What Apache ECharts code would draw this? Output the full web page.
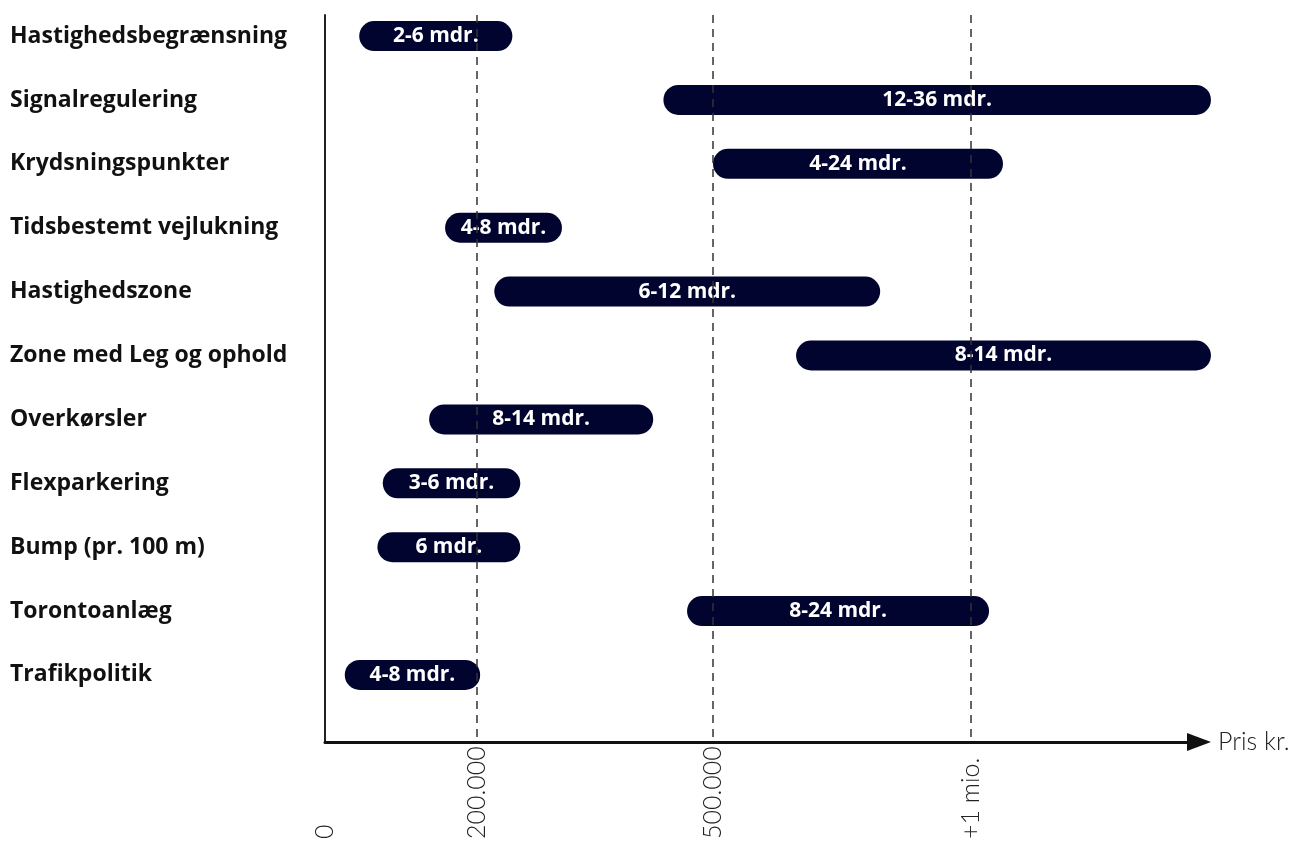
<!DOCTYPE html>
<html>
<head>
<meta charset="utf-8">
<script src="https://cdn.jsdelivr.net/npm/echarts@6/dist/echarts.min.js"></script>
<style>html,body{margin:0;padding:0;background:#fff}#c{width:1299px;height:843px}</style>
</head>
<body>
<div id="c"></div>
<script>
// ---- data ----
const categories = ['Hastighedsbegrænsning','Signalregulering','Krydsningspunkter','Tidsbestemt vejlukning','Hastighedszone','Zone med Leg og ophold','Overkørsler','Flexparkering','Bump (pr. 100 m)','Torontoanlæg','Trafikpolitik'];
const priceFrom = [45000, 437000, 500000, 158000, 222000, 661000, 137000, 76000, 69000, 467000, 26000];
const priceTo   = [245000, 1465000, 1062000, 308000, 824000, 1465000, 424000, 255000, 255000, 1035000, 204000];
const durations = ['2-6 mdr.','12-36 mdr.','4-24 mdr.','4-8 mdr.','6-12 mdr.','8-14 mdr.','8-14 mdr.','3-6 mdr.','6 mdr.','8-24 mdr.','4-8 mdr.'];
const tickValues = [0, 200000, 500000, 1000000];
const tickLabels = ['0','200.000','500.000','+1 mio.'];
const gridLineValues = [200000, 500000, 1000000];

// the price axis is drawn schematically: piecewise linear between the tick values
const scaleUnits = [0, 152, 388, 646];
function toAxis(kr){
  let i = 1;
  while (i < tickValues.length - 1 && kr > tickValues[i]) i++;
  const k0 = tickValues[i-1], k1 = tickValues[i], u0 = scaleUnits[i-1], u1 = scaleUnits[i];
  return u0 + (kr - k0) * (u1 - u0) / (k1 - k0);
}

const chart = echarts.init(document.getElementById('c'), null, {renderer:'canvas'});
const seriesData = categories.map((c, i) => [i, toAxis(priceFrom[i]), toAxis(priceTo[i])]);
const tickAxisVals = tickValues.map(toAxis);

chart.setOption({
  animation: false,
  grid: {left: 325, right: 100, top: 15, bottom: 101, containLabel: false},
  xAxis: {
    type: 'value', min: 0, max: 874,
    axisLine: {show: true, onZero: false, lineStyle: {color: '#111', width: 3}, symbol: ['none', 'triangle'], symbolSize: [18, 24]},
    axisTick: {show: false},
    splitLine: {show: false},
    axisLabel: {
      customValues: tickAxisVals,
      rotate: 90, align: 'left', verticalAlign: 'middle', margin: 97,
      fontFamily: 'Lato', fontWeight: 300, fontSize: 25, color: '#222',
      formatter: function(v){
        let best = 0;
        tickAxisVals.forEach((t, i) => { if (Math.abs(t - v) < Math.abs(tickAxisVals[best] - v)) best = i; });
        return tickLabels[best];
      }
    },
    name: 'Pris kr.', nameLocation: 'end', nameGap: 19,
    nameTextStyle: {fontFamily: 'Lato', fontWeight: 300, fontSize: 25, color: '#222', align: 'left', verticalAlign: 'middle'}
  },
  yAxis: {
    type: 'value', inverse: true, min: -0.33, max: 11.05,
    axisLine: {show: true, onZero: false, lineStyle: {color: '#222', width: 2}},
    axisTick: {show: false},
    splitLine: {show: false},
    axisLabel: {
      customValues: categories.map((c, i) => i),
      align: 'left', margin: 315,
      fontFamily: 'Open Sans', fontWeight: 'bold', fontSize: 23, color: '#111',
      formatter: function(v){ return categories[Math.round(v)] || ''; }
    }
  },
  series: [{
    type: 'custom',
    clip: false,
    data: seriesData,
    encode: {x: [1, 2], y: 0},
    renderItem: function(params, api){
      const idx = api.value(0);
      const s = api.coord([api.value(1), idx]);
      const e = api.coord([api.value(2), idx]);
      const h = 30;
      return {
        type: 'rect',
        shape: {x: s[0], y: s[1] - h/2, width: e[0] - s[0], height: h, r: h/2},
        style: {fill: '#01042e'},
        textContent: {
          style: {text: durations[params.dataIndex], fill: '#fff', fontFamily: 'Open Sans', fontWeight: 'bold', fontSize: 21}
        },
        textConfig: {position: 'inside'}
      };
    },
    markLine: {
      silent: true,
      symbol: ['none', 'none'],
      label: {show: false},
      lineStyle: {color: '#333', width: 1.5, type: [8, 6]},
      data: gridLineValues.map(v => ({xAxis: toAxis(v)}))
    }
  }]
});
</script>
</body>
</html>
